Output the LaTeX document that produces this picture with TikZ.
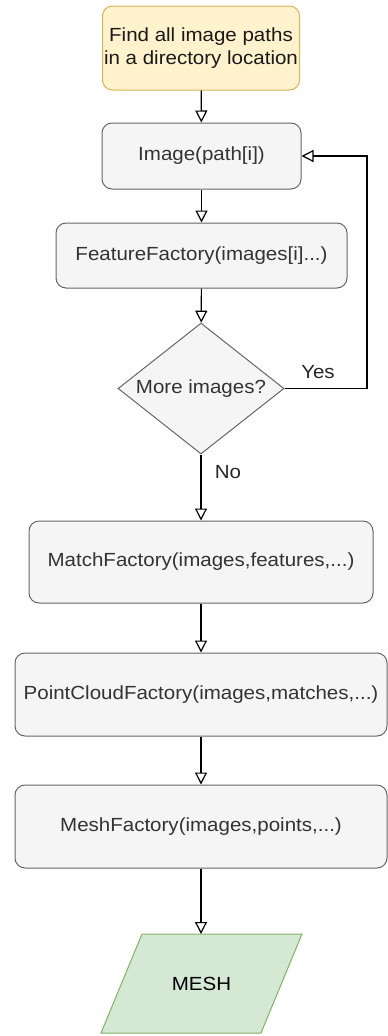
\documentclass[tikz,border=0pt]{standalone}
\usepackage{fontspec}
\setmainfont{Liberation Sans}[FakeStretch=1.08]
\usetikzlibrary{arrows.meta,shapes.geometric}
\definecolor{yfill}{HTML}{FFF2CC}
\definecolor{ydraw}{HTML}{D6B656}
\definecolor{gfill}{HTML}{F5F5F5}
\definecolor{gdraw}{HTML}{666666}
\definecolor{gtext}{HTML}{333333}
\definecolor{mfill}{HTML}{D5E8D4}
\definecolor{mdraw}{HTML}{82B366}
\begin{document}
\begin{tikzpicture}[x=1pt,y=-1pt,
  every node/.style={font=\fontsize{19}{23}\selectfont},
  procbox/.style={draw=gdraw,fill=gfill,text=gtext,rounded corners=10pt,line width=1pt,inner sep=0pt},
  startbox/.style={draw=ydraw,fill=yfill,text=black!90,rounded corners=10pt,line width=1pt,inner sep=0pt,align=center},
  decision/.style={draw=gdraw,fill=gfill,text=gtext,diamond,line width=1pt,inner sep=0pt},
  flow/.style={line width=1.2pt,-{Triangle[open,length=12pt,width=12pt]}},
  lbl/.style={text=black!85}
]
\useasboundingbox (0,0) rectangle (388,1036);
\node[startbox,minimum width=197pt,minimum height=84pt] (find) at (201,48) {Find all image paths\\in a directory location};
\node[procbox,minimum width=199pt,minimum height=66pt] (img) at (201.5,156) {Image(path[i])};
\node[procbox,minimum width=291pt,minimum height=65pt] (feat) at (201.5,255.5) {FeatureFactory(images[i]...)};
\node[decision,minimum width=166pt,minimum height=131pt] (more) at (201,388.5) {};
\node[text=gtext] at (201,388.5) {More images?};
\node[procbox,minimum width=344pt,minimum height=82pt] (match) at (201,562) {MatchFactory(images,features,...)};
\node[procbox,minimum width=372pt,minimum height=83pt] (pc) at (201,694.5) {PointCloudFactory(images,matches,...)};
\node[procbox,minimum width=372pt,minimum height=83pt] (meshf) at (201,826.5) {MeshFactory(images,points,...)};
\draw[draw=mdraw,fill=mfill,line width=1pt] (142,934) -- (302,934) -- (261,1033) -- (101,1033) -- cycle;
\node (mesh) at (201.5,983.5) {MESH};
\coordinate (meshtop) at (201,934);
\coordinate (loopa) at (367,388.5);
\coordinate (loopb) at (367,156);
\draw[flow] (find) -- (img);
\draw[flow] (img) -- (feat);
\draw[flow] (feat) -- (more);
\draw[flow] (more.east) -- (loopa) -- (loopb) -- (img.east);
\draw[flow] (more) -- (match);
\draw[flow] (match) -- (pc);
\draw[flow] (pc) -- (meshf);
\draw[flow] (meshf) -- (meshtop);
\node[lbl] (yes) at (318,372) {Yes};
\node[lbl] (no) at (228,472) {No};
\end{tikzpicture}
\end{document}
